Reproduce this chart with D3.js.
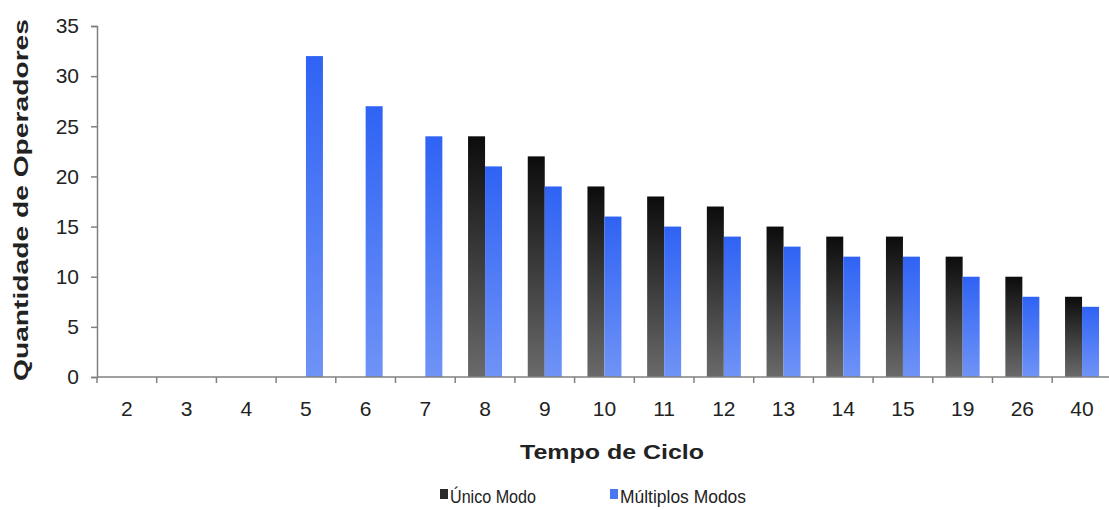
<!DOCTYPE html>
<html>
<head>
<meta charset="utf-8">
<script src="https://cdn.jsdelivr.net/npm/d3@7"></script>
<style>
  body { margin: 0; background: #fff; }
  text { font-family: "Liberation Sans", Arial, sans-serif; fill: #222; }
</style>
</head>
<body>
<svg id="chart"></svg>
<script>
const categories = ["2", "3", "4", "5", "6", "7", "8", "9", "10", "11", "12", "13", "14", "15", "19", "26", "40"];
const unicoModo = [null, null, null, null, null, null, 24, 22, 19, 18, 17, 15, 14, 14, 12, 10, 8];
const multiplosModos = [null, null, null, 32, 27, 24, 21, 19, 16, 15, 14, 13, 12, 12, 10, 8, 7];
const yTicks = [0, 5, 10, 15, 20, 25, 30, 35];
const seriesNames = ["Único Modo", "Múltiplos Modos"];

const width = 1109, height = 510;

const svg = d3.select("#chart")
  .attr("width", width)
  .attr("height", height);

// gradients like the old office chart
const defs = svg.append("defs");
function grad(id, top, bottom) {
  const g = defs.append("linearGradient").attr("id", id)
    .attr("x1", 0).attr("y1", 0).attr("x2", 0).attr("y2", 1);
  g.append("stop").attr("offset", "0%").attr("stop-color", top);
  g.append("stop").attr("offset", "100%").attr("stop-color", bottom);
}
grad("gBlack", "#0c0c0c", "#6a6a6a");
grad("gBlue", "#2f63f4", "#6f93f6");

const x = d3.scaleBand()
  .domain(categories)
  .range([97, 97 + 17 * 59.7])
  .padding(0);

const x1 = d3.scaleBand()
  .domain(seriesNames)
  .range([x.bandwidth() / 2 - 17, x.bandwidth() / 2 + 17]);

const y = d3.scaleLinear()
  .domain([0, 35])
  .range([377, 26]);

const rows = categories.map((c, i) => ({
  cat: c,
  vals: [
    { key: seriesNames[0], v: unicoModo[i], fill: "url(#gBlack)" },
    { key: seriesNames[1], v: multiplosModos[i], fill: "url(#gBlue)" }
  ].filter(d => d.v != null)
}));

const groups = svg.append("g")
  .selectAll("g")
  .data(rows)
  .enter().append("g")
  .attr("transform", d => `translate(${x(d.cat)},0)`);

groups.selectAll("rect")
  .data(d => d.vals)
  .enter().append("rect")
  .attr("x", d => x1(d.key))
  .attr("width", x1.bandwidth())
  .attr("y", d => y(d.v))
  .attr("height", d => y(0) - y(d.v))
  .attr("fill", d => d.fill);

// y axis
const yAxis = svg.append("g")
  .attr("transform", "translate(97,0)")
  .call(d3.axisLeft(y).tickValues(yTicks).tickSize(6).tickPadding(12));
yAxis.select(".domain").attr("stroke", "#808080").attr("stroke-width", 1.5);
yAxis.selectAll(".tick line").attr("stroke", "#808080").attr("stroke-width", 1.5);
yAxis.selectAll(".tick text")
  .attr("font-size", "21px")
  .attr("font-family", "Liberation Sans, Arial, sans-serif")
  .attr("fill", "#222");

// x axis, ticks between the categories
const xAxisG = svg.append("g");
xAxisG.append("line")
  .attr("x1", 97).attr("x2", width)
  .attr("y1", y(0)).attr("y2", y(0))
  .attr("stroke", "#808080").attr("stroke-width", 1.5);
xAxisG.selectAll("line.tk")
  .data(categories)
  .enter().append("line")
  .attr("class", "tk")
  .attr("x1", d => x(d)).attr("x2", d => x(d))
  .attr("y1", y(0)).attr("y2", y(0) + 6)
  .attr("stroke", "#808080").attr("stroke-width", 1.5);
xAxisG.selectAll("text")
  .data(categories)
  .enter().append("text")
  .attr("x", d => x(d) + x.bandwidth() / 2)
  .attr("y", 416)
  .attr("text-anchor", "middle")
  .attr("font-size", "21px")
  .text(d => d);

// titles
svg.append("text")
  .attr("transform", "translate(28,200) rotate(-90)")
  .attr("text-anchor", "middle")
  .attr("font-size", "21px")
  .attr("font-weight", "bold")
  .attr("textLength", 362)
  .attr("lengthAdjust", "spacingAndGlyphs")
  .text("Quantidade de Operadores");

svg.append("text")
  .attr("x", 612)
  .attr("y", 459)
  .attr("text-anchor", "middle")
  .attr("font-size", "21px")
  .attr("font-weight", "bold")
  .attr("textLength", 184)
  .attr("lengthAdjust", "spacingAndGlyphs")
  .text("Tempo de Ciclo");

// legend
const legend = svg.append("g");
const legendItems = [
  { name: seriesNames[0], color: "#2a2a2a", x: 440, w: 86 },
  { name: seriesNames[1], color: "#4a78f2", x: 610, w: 126 }
];
legend.selectAll("rect")
  .data(legendItems)
  .enter().append("rect")
  .attr("x", d => d.x).attr("y", 489)
  .attr("width", 8).attr("height", 10)
  .attr("fill", d => d.color);
legend.selectAll("text")
  .data(legendItems)
  .enter().append("text")
  .attr("x", d => d.x + 10)
  .attr("y", 503)
  .attr("font-size", "19px")
  .attr("textLength", d => d.w)
  .attr("lengthAdjust", "spacingAndGlyphs")
  .text(d => d.name);
</script>
</body>
</html>
